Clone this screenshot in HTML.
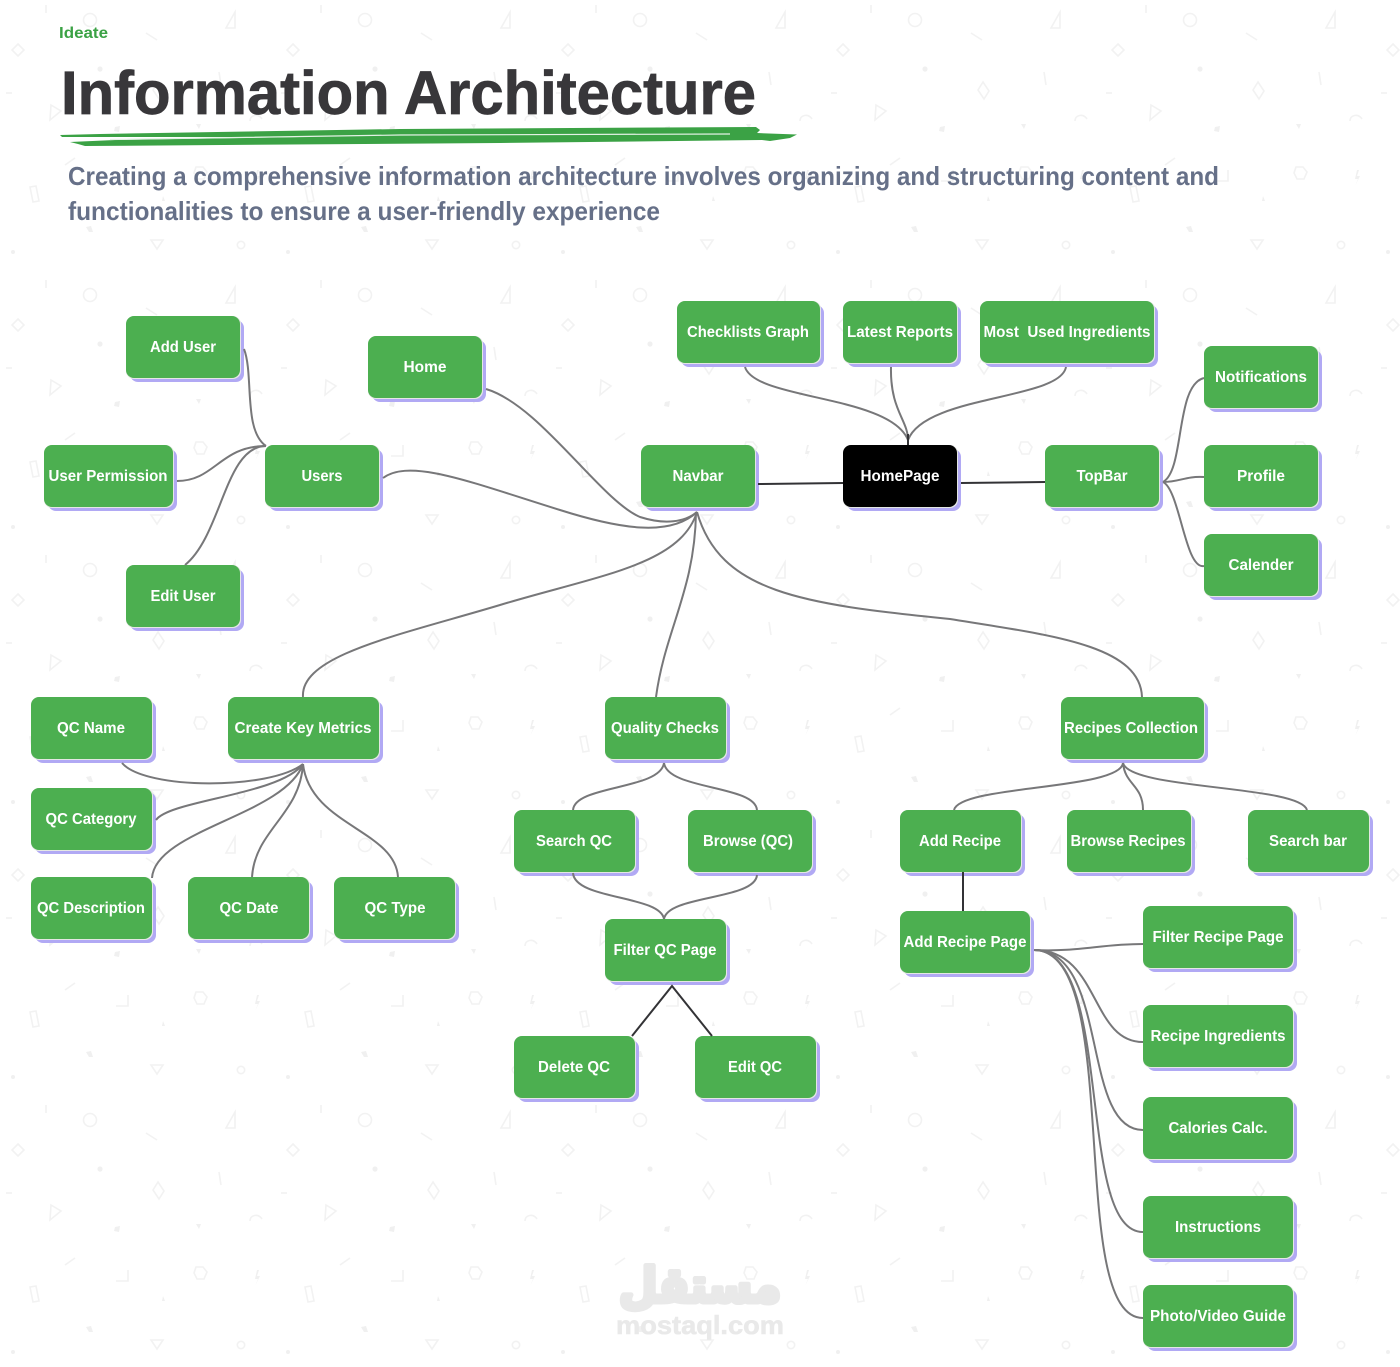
<!DOCTYPE html>
<html><head><meta charset="utf-8"><title>Information Architecture</title>
<style>
html,body{margin:0;padding:0;background:#fff;width:1400px;height:1367px;overflow:hidden}
svg{display:block}
.n text{font-family:"Liberation Sans",sans-serif;font-weight:700;font-size:16px;fill:#fff;text-anchor:middle}
.c path{fill:none;stroke:#777779;stroke-width:2}
.d path{fill:none;stroke:#333336;stroke-width:2}
.s{fill:#b1a9f4}.e{fill:#e4e7e4}.g{fill:#4caf50}.k{fill:#000}
</style></head><body>
<svg width="1400" height="1367" viewBox="0 0 1400 1367" xmlns="http://www.w3.org/2000/svg">
<defs>
<pattern id="bg" x="0" y="0" width="275" height="275" patternUnits="userSpaceOnUse">
<g fill="none" stroke="#f2f2f2" stroke-width="1.6">
<path d="M65 165L75 158"/>
<path d="M116 181H128V170"/>
<path d="M196 167h7l4 5-3 7h-7l-3-6z"/>
<path d="M30 187l6-1 3 15-6 1z"/>
<path d="M151 240h12l-6 9z"/>
<circle cx="241" cy="245" r="3.7"/>
<path d="M46 5v8"/>
<circle cx="90" cy="20" r="6.5"/>
<path d="M146 33l11 7"/>
<path d="M235 12v16h-9z"/>
<path d="M18 44l6 6-6 6-6-6z"/>
<path d="M158 82l6 9-5 8-6-9z"/>
<path d="M219 72l2 13"/>
<path d="M6 93h6"/>
<path d="M51 105l10 6-11 9z"/>
<path d="M250 121c0-6 8-8 12-2"/>
</g>
<g fill="#f0f0f0">
<path d="M257 170l-2 9h3l-3 7 5-10h-3l2-6z"/>
<path d="M86 227l5-1 2 6h-4z"/>
<path d="M163 196l2 5h-3z"/>
<circle cx="13" cy="252" r="2"/>
<circle cx="100" cy="69" r="2.6"/>
<path d="M115 127l5-1-1 6-5-1z"/>
<path d="M196 124h5l-2 5z"/>
</g>
</pattern>
</defs>
<rect width="1400" height="1367" fill="#fff"/>
<rect width="1400" height="1367" fill="url(#bg)"/>

<g font-family="'Liberation Sans','Noto Sans CJK SC',sans-serif" text-anchor="middle" font-weight="700" fill="#e9e9e9">
<text x="700" y="1302" font-family="'DejaVu Sans',sans-serif" font-size="48" textLength="162" lengthAdjust="spacingAndGlyphs" stroke="#e9e9e9" stroke-width="5" stroke-linejoin="round">مستقل</text>
<text x="700" y="1334" font-size="26" textLength="168" lengthAdjust="spacingAndGlyphs" stroke="#e9e9e9" stroke-width="0.6">mostaql.com</text>
</g>

<text x="59" y="38" font-family="'Liberation Sans',sans-serif" font-weight="700" font-size="16" fill="#3ba245" textLength="49" lengthAdjust="spacingAndGlyphs">Ideate</text>
<text x="61" y="114" font-family="'Liberation Sans',sans-serif" font-weight="700" font-size="61" fill="#38373a" stroke="#38373a" stroke-width="0.8" textLength="695" lengthAdjust="spacingAndGlyphs">Information Architecture</text>
<path d="M60 135L100 134L400 129L756 127L760 130L757 133L797 134.500L790 138L770 141L762 140L500 143L85 146L78 144L70 142L115 140L300 137L62 137Z" fill="#3ba245"/>
<path d="M110 139.500L400 135L730 134" stroke="#e3f1e5" stroke-width="1.200" fill="none"/>
<g font-family="'Liberation Sans',sans-serif" font-weight="700" font-size="26" fill="#667088">
<text x="68" y="185" textLength="1151" lengthAdjust="spacingAndGlyphs">Creating a comprehensive information architecture involves organizing and structuring content and</text>
<text x="68" y="220" textLength="592" lengthAdjust="spacingAndGlyphs">functionalities to ensure a user-friendly experience</text>
</g>

<g class="n">
<rect class="s" x="130" y="320" width="114" height="62" rx="8"/><rect class="e" x="126" y="316" width="115" height="63" rx="8"/><rect class="g" x="126" y="316" width="114" height="62" rx="8"/><text x="183" y="352" textLength="66" lengthAdjust="spacingAndGlyphs">Add User</text>
<rect class="s" x="372" y="340" width="114" height="62" rx="8"/><rect class="e" x="368" y="336" width="115" height="63" rx="8"/><rect class="g" x="368" y="336" width="114" height="62" rx="8"/><text x="425" y="372" textLength="43" lengthAdjust="spacingAndGlyphs">Home</text>
<rect class="s" x="681" y="305" width="143" height="62" rx="8"/><rect class="e" x="677" y="301" width="144" height="63" rx="8"/><rect class="g" x="677" y="301" width="143" height="62" rx="8"/><text x="748" y="337" textLength="122" lengthAdjust="spacingAndGlyphs">Checklists Graph</text>
<rect class="s" x="847" y="305" width="114" height="62" rx="8"/><rect class="e" x="843" y="301" width="115" height="63" rx="8"/><rect class="g" x="843" y="301" width="114" height="62" rx="8"/><text x="900" y="337" textLength="106" lengthAdjust="spacingAndGlyphs">Latest Reports</text>
<rect class="s" x="984" y="305" width="174" height="62" rx="8"/><rect class="e" x="980" y="301" width="175" height="63" rx="8"/><rect class="g" x="980" y="301" width="174" height="62" rx="8"/><text x="1067" y="337" textLength="167" lengthAdjust="spacingAndGlyphs" xml:space="preserve">Most  Used Ingredients</text>
<rect class="s" x="1208" y="350" width="114" height="62" rx="8"/><rect class="e" x="1204" y="346" width="115" height="63" rx="8"/><rect class="g" x="1204" y="346" width="114" height="62" rx="8"/><text x="1261" y="382" textLength="92" lengthAdjust="spacingAndGlyphs">Notifications</text>
<rect class="s" x="48" y="449" width="129" height="62" rx="8"/><rect class="e" x="44" y="445" width="130" height="63" rx="8"/><rect class="g" x="44" y="445" width="129" height="62" rx="8"/><text x="108" y="481" textLength="119" lengthAdjust="spacingAndGlyphs">User Permission</text>
<rect class="s" x="269" y="449" width="114" height="62" rx="8"/><rect class="e" x="265" y="445" width="115" height="63" rx="8"/><rect class="g" x="265" y="445" width="114" height="62" rx="8"/><text x="322" y="481" textLength="41" lengthAdjust="spacingAndGlyphs">Users</text>
<rect class="s" x="645" y="449" width="114" height="62" rx="8"/><rect class="e" x="641" y="445" width="115" height="63" rx="8"/><rect class="g" x="641" y="445" width="114" height="62" rx="8"/><text x="698" y="481" textLength="51" lengthAdjust="spacingAndGlyphs">Navbar</text>
<rect class="s" x="847" y="449" width="114" height="62" rx="8"/><rect class="e" x="843" y="445" width="115" height="63" rx="8"/><rect class="k" x="843" y="445" width="114" height="62" rx="8"/><text x="900" y="481" textLength="79" lengthAdjust="spacingAndGlyphs">HomePage</text>
<rect class="s" x="1049" y="449" width="114" height="62" rx="8"/><rect class="e" x="1045" y="445" width="115" height="63" rx="8"/><rect class="g" x="1045" y="445" width="114" height="62" rx="8"/><text x="1102" y="481" textLength="51" lengthAdjust="spacingAndGlyphs">TopBar</text>
<rect class="s" x="1208" y="449" width="114" height="62" rx="8"/><rect class="e" x="1204" y="445" width="115" height="63" rx="8"/><rect class="g" x="1204" y="445" width="114" height="62" rx="8"/><text x="1261" y="481" textLength="48" lengthAdjust="spacingAndGlyphs">Profile</text>
<rect class="s" x="1208" y="538" width="114" height="62" rx="8"/><rect class="e" x="1204" y="534" width="115" height="63" rx="8"/><rect class="g" x="1204" y="534" width="114" height="62" rx="8"/><text x="1261" y="570" textLength="65" lengthAdjust="spacingAndGlyphs">Calender</text>
<rect class="s" x="130" y="569" width="114" height="62" rx="8"/><rect class="e" x="126" y="565" width="115" height="63" rx="8"/><rect class="g" x="126" y="565" width="114" height="62" rx="8"/><text x="183" y="601" textLength="65" lengthAdjust="spacingAndGlyphs">Edit User</text>
<rect class="s" x="35" y="701" width="121" height="62" rx="8"/><rect class="e" x="31" y="697" width="122" height="63" rx="8"/><rect class="g" x="31" y="697" width="121" height="62" rx="8"/><text x="91" y="733" textLength="68" lengthAdjust="spacingAndGlyphs">QC Name</text>
<rect class="s" x="232" y="701" width="151" height="62" rx="8"/><rect class="e" x="228" y="697" width="152" height="63" rx="8"/><rect class="g" x="228" y="697" width="151" height="62" rx="8"/><text x="303" y="733" textLength="137" lengthAdjust="spacingAndGlyphs">Create Key Metrics</text>
<rect class="s" x="609" y="701" width="121" height="62" rx="8"/><rect class="e" x="605" y="697" width="122" height="63" rx="8"/><rect class="g" x="605" y="697" width="121" height="62" rx="8"/><text x="665" y="733" textLength="108" lengthAdjust="spacingAndGlyphs">Quality Checks</text>
<rect class="s" x="1065" y="701" width="143" height="62" rx="8"/><rect class="e" x="1061" y="697" width="144" height="63" rx="8"/><rect class="g" x="1061" y="697" width="143" height="62" rx="8"/><text x="1131" y="733" textLength="134" lengthAdjust="spacingAndGlyphs">Recipes Collection</text>
<rect class="s" x="35" y="792" width="121" height="62" rx="8"/><rect class="e" x="31" y="788" width="122" height="63" rx="8"/><rect class="g" x="31" y="788" width="121" height="62" rx="8"/><text x="91" y="824" textLength="91" lengthAdjust="spacingAndGlyphs">QC Category</text>
<rect class="s" x="518" y="814" width="121" height="62" rx="8"/><rect class="e" x="514" y="810" width="122" height="63" rx="8"/><rect class="g" x="514" y="810" width="121" height="62" rx="8"/><text x="574" y="846" textLength="76" lengthAdjust="spacingAndGlyphs">Search QC</text>
<rect class="s" x="692" y="814" width="124" height="62" rx="8"/><rect class="e" x="688" y="810" width="125" height="63" rx="8"/><rect class="g" x="688" y="810" width="124" height="62" rx="8"/><text x="748" y="846" textLength="90" lengthAdjust="spacingAndGlyphs">Browse (QC)</text>
<rect class="s" x="904" y="814" width="121" height="62" rx="8"/><rect class="e" x="900" y="810" width="122" height="63" rx="8"/><rect class="g" x="900" y="810" width="121" height="62" rx="8"/><text x="960" y="846" textLength="82" lengthAdjust="spacingAndGlyphs">Add Recipe</text>
<rect class="s" x="1071" y="814" width="124" height="62" rx="8"/><rect class="e" x="1067" y="810" width="125" height="63" rx="8"/><rect class="g" x="1067" y="810" width="124" height="62" rx="8"/><text x="1128" y="846" textLength="115" lengthAdjust="spacingAndGlyphs">Browse Recipes</text>
<rect class="s" x="1252" y="814" width="121" height="62" rx="8"/><rect class="e" x="1248" y="810" width="122" height="63" rx="8"/><rect class="g" x="1248" y="810" width="121" height="62" rx="8"/><text x="1308" y="846" textLength="78" lengthAdjust="spacingAndGlyphs">Search bar</text>
<rect class="s" x="35" y="881" width="121" height="62" rx="8"/><rect class="e" x="31" y="877" width="122" height="63" rx="8"/><rect class="g" x="31" y="877" width="121" height="62" rx="8"/><text x="91" y="913" textLength="108" lengthAdjust="spacingAndGlyphs">QC Description</text>
<rect class="s" x="192" y="881" width="121" height="62" rx="8"/><rect class="e" x="188" y="877" width="122" height="63" rx="8"/><rect class="g" x="188" y="877" width="121" height="62" rx="8"/><text x="249" y="913" textLength="59" lengthAdjust="spacingAndGlyphs">QC Date</text>
<rect class="s" x="338" y="881" width="121" height="62" rx="8"/><rect class="e" x="334" y="877" width="122" height="63" rx="8"/><rect class="g" x="334" y="877" width="121" height="62" rx="8"/><text x="395" y="913" textLength="61" lengthAdjust="spacingAndGlyphs">QC Type</text>
<rect class="s" x="609" y="923" width="121" height="62" rx="8"/><rect class="e" x="605" y="919" width="122" height="63" rx="8"/><rect class="g" x="605" y="919" width="121" height="62" rx="8"/><text x="665" y="955" textLength="103" lengthAdjust="spacingAndGlyphs">Filter QC Page</text>
<rect class="s" x="904" y="915" width="130" height="62" rx="8"/><rect class="e" x="900" y="911" width="131" height="63" rx="8"/><rect class="g" x="900" y="911" width="130" height="62" rx="8"/><text x="965" y="947" textLength="123" lengthAdjust="spacingAndGlyphs">Add Recipe Page</text>
<rect class="s" x="1147" y="910" width="150" height="62" rx="8"/><rect class="e" x="1143" y="906" width="151" height="63" rx="8"/><rect class="g" x="1143" y="906" width="150" height="62" rx="8"/><text x="1218" y="942" textLength="131" lengthAdjust="spacingAndGlyphs">Filter Recipe Page</text>
<rect class="s" x="1147" y="1009" width="150" height="62" rx="8"/><rect class="e" x="1143" y="1005" width="151" height="63" rx="8"/><rect class="g" x="1143" y="1005" width="150" height="62" rx="8"/><text x="1218" y="1041" textLength="135" lengthAdjust="spacingAndGlyphs">Recipe Ingredients</text>
<rect class="s" x="1147" y="1101" width="150" height="62" rx="8"/><rect class="e" x="1143" y="1097" width="151" height="63" rx="8"/><rect class="g" x="1143" y="1097" width="150" height="62" rx="8"/><text x="1218" y="1133" textLength="99" lengthAdjust="spacingAndGlyphs">Calories Calc.</text>
<rect class="s" x="1147" y="1200" width="150" height="62" rx="8"/><rect class="e" x="1143" y="1196" width="151" height="63" rx="8"/><rect class="g" x="1143" y="1196" width="150" height="62" rx="8"/><text x="1218" y="1232" textLength="86" lengthAdjust="spacingAndGlyphs">Instructions</text>
<rect class="s" x="1147" y="1289" width="150" height="62" rx="8"/><rect class="e" x="1143" y="1285" width="151" height="63" rx="8"/><rect class="g" x="1143" y="1285" width="150" height="62" rx="8"/><text x="1218" y="1321" textLength="136" lengthAdjust="spacingAndGlyphs">Photo/Video Guide</text>
<rect class="s" x="518" y="1040" width="121" height="62" rx="8"/><rect class="e" x="514" y="1036" width="122" height="63" rx="8"/><rect class="g" x="514" y="1036" width="121" height="62" rx="8"/><text x="574" y="1072" textLength="72" lengthAdjust="spacingAndGlyphs">Delete QC</text>
<rect class="s" x="699" y="1040" width="121" height="62" rx="8"/><rect class="e" x="695" y="1036" width="122" height="63" rx="8"/><rect class="g" x="695" y="1036" width="121" height="62" rx="8"/><text x="755" y="1072" textLength="54" lengthAdjust="spacingAndGlyphs">Edit QC</text>
</g>

<g class="c">
<path d="M244 349C254 375 243 430 266 446"/>
<path d="M177 481C215 481 220 446 266 446"/>
<path d="M185 565C222 535 225 446 266 446"/>
<path d="M486 389C540 405 600 500 640 517C665 525 685 522 697 512"/>
<path d="M383 478C410 458 470 482 560 510C620 529 670 537 697 512"/>
<path d="M303 697C300 655 400 635 500 605C600 575 680 565 697 512"/>
<path d="M656 697C665 630 695 590 696 512"/>
<path d="M1142 697C1140 645 1050 635 950 619C800 604 720 592 697 512"/>
<path d="M745 367C755 400 890 395 908 440"/>
<path d="M891 367C890 410 908 420 908 440"/>
<path d="M1066 367C1060 400 925 395 908 440"/>
<path d="M1163 482C1185 470 1175 385 1204 378"/>
<path d="M1163 482C1180 482 1185 476 1204 477"/>
<path d="M1163 482C1180 490 1185 570 1204 566"/>
<path d="M122 763C145 790 270 790 303 764"/>
<path d="M156 820C170 800 280 795 303 764"/>
<path d="M152 878C155 830 285 815 303 764"/>
<path d="M252 877C255 830 300 815 303 764"/>
<path d="M398 877C395 830 310 825 303 764"/>
<path d="M664 763C660 790 575 785 573 810"/>
<path d="M664 763C668 790 755 785 757 810"/>
<path d="M573 873C575 900 660 895 664 919"/>
<path d="M757 875C755 900 668 895 664 919"/>
<path d="M1123 763C1120 790 960 785 954 810"/>
<path d="M1123 763C1125 785 1143 785 1143 810"/>
<path d="M1123 763C1130 790 1300 785 1307 810"/>
<path d="M1034 950C1080 952 1100 944 1143 944"/>
<path d="M1034 950C1100 950 1090 1042 1143 1042"/>
<path d="M1034 950C1110 950 1080 1130 1143 1130"/>
<path d="M1034 950C1115 950 1075 1232 1143 1232"/>
<path d="M1034 950C1125 950 1065 1318 1143 1318"/>
</g>
<g class="d">
<path d="M908 434V445"/>
<path d="M758 484L843 483"/>
<path d="M961 483L1045 482"/>
<path d="M632 1036L672 986L712 1036"/>
<path d="M963 872V911"/>
</g>
</svg>
</body></html>
